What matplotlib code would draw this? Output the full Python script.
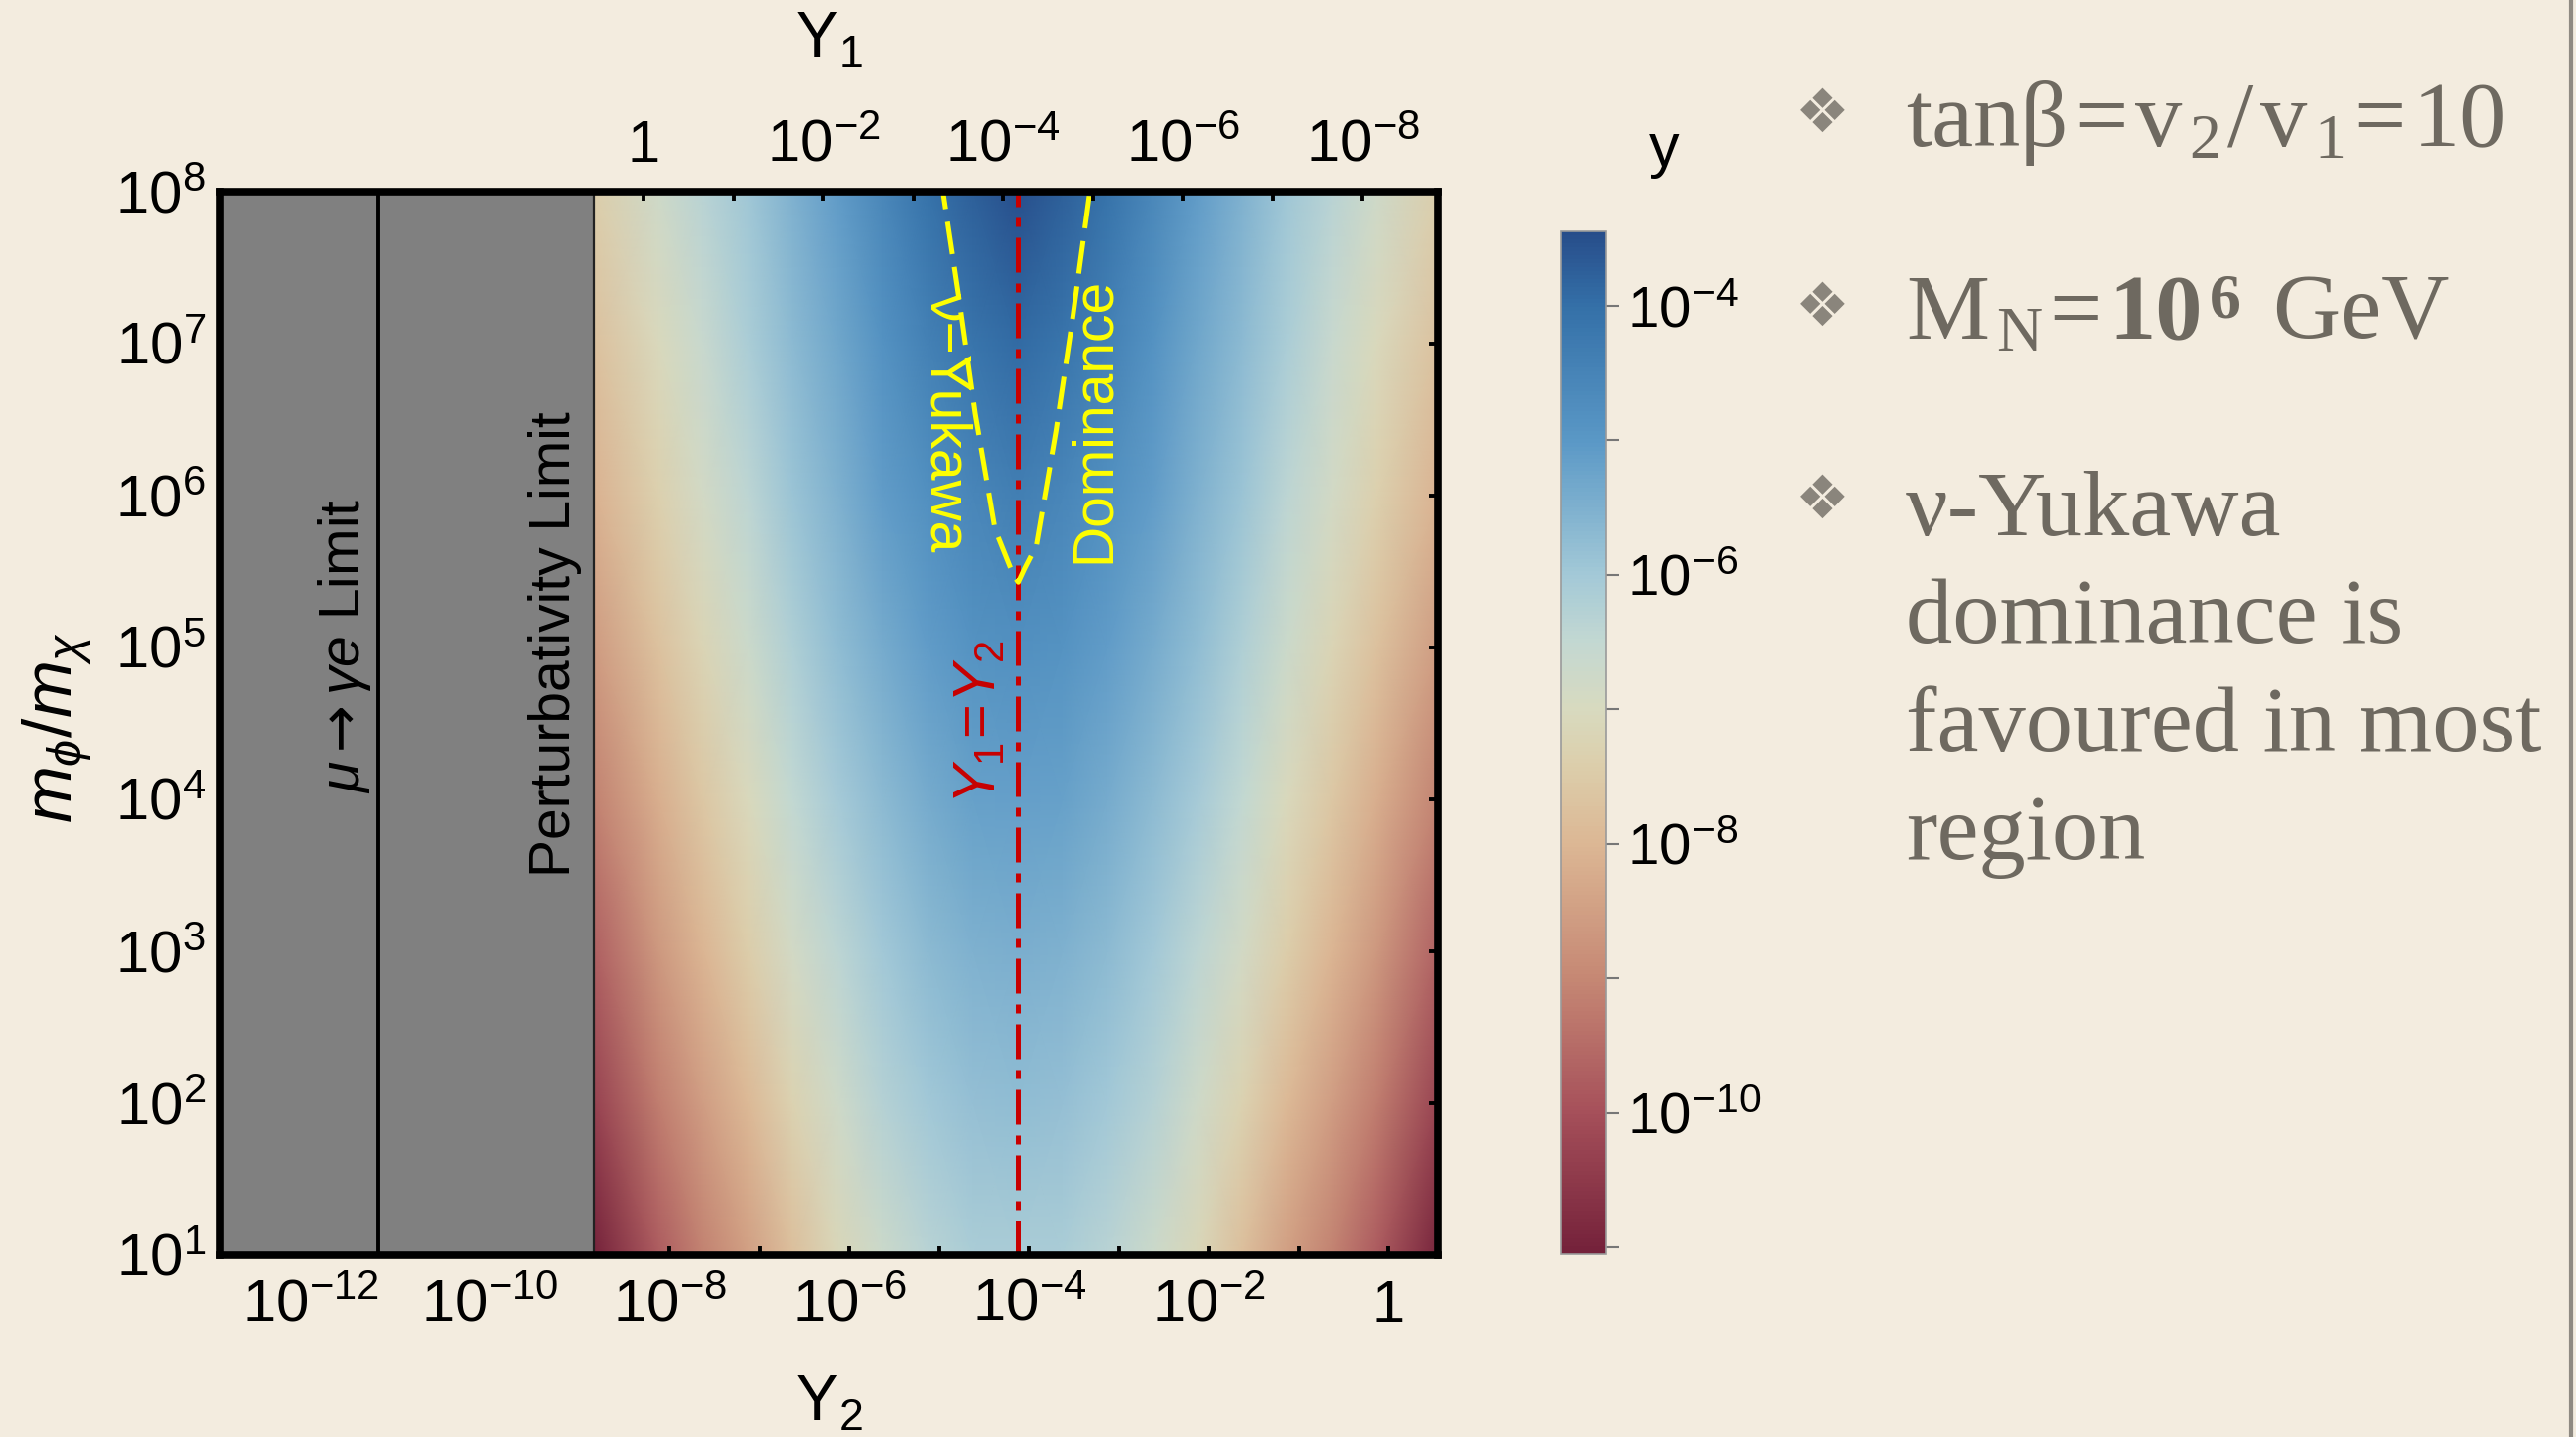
import numpy as np
import matplotlib
matplotlib.use('Agg')
import matplotlib.pyplot as plt
from matplotlib.colors import LinearSegmentedColormap, LogNorm
from matplotlib.ticker import FixedLocator, NullLocator, FixedFormatter
from matplotlib.lines import Line2D

W, H, DPI = 2594, 1447, 100
plt.rcParams['font.family'] = ['Liberation Sans', 'DejaVu Sans']
plt.rcParams['mathtext.fontset'] = 'custom'
plt.rcParams['mathtext.rm'] = 'Liberation Sans'
plt.rcParams['mathtext.it'] = 'Liberation Sans:italic'
plt.rcParams['mathtext.bf'] = 'Liberation Sans:bold'
plt.rcParams['mathtext.sf'] = 'DejaVu Sans'

# ---------------- data (log10 values) ----------------
y2_center_log = -4.13        # Y1 = Y2 line
y1y2_product_log = -8.29     # log10(Y1*Y2)
pert_limit_log = -8.84       # perturbativity boundary (Y1 = sqrt(4 pi))
mueg_limit_log = -11.24      # mu -> gamma e boundary
x_min_log, x_max_log = -13.0, 0.55
m_min_log, m_max_log = 1.0, 8.0

m_rows_log = [1, 2, 3, 4, 5, 6, 7, 8]
dist_cols = [0.0, 0.5, 1.0, 1.5, 2.0, 2.5, 3.0, 3.5, 4.0, 4.71]
logy_table = [
    [-6.10, -6.15, -6.35, -6.70, -7.15, -7.80, -8.50, -9.10, -9.80, -11.00],
    [-5.75, -5.80, -6.00, -6.30, -6.75, -7.30, -7.95, -8.55, -9.20, -10.30],
    [-5.45, -5.50, -5.70, -6.00, -6.40, -6.85, -7.45, -8.05, -8.65, -9.70],
    [-5.15, -5.20, -5.40, -5.70, -6.05, -6.50, -7.05, -7.60, -8.20, -9.10],
    [-4.80, -4.90, -5.10, -5.40, -5.75, -6.20, -6.70, -7.20, -7.75, -8.60],
    [-4.40, -4.55, -4.80, -5.10, -5.50, -5.90, -6.40, -6.85, -7.35, -8.10],
    [-3.95, -4.15, -4.45, -4.85, -5.30, -5.70, -6.15, -6.60, -7.05, -7.75],
    [-3.50, -3.75, -4.10, -4.60, -5.10, -5.50, -5.95, -6.35, -6.75, -7.40],
]
cbar_min_log, cbar_max_log = -11.05, -3.45

# nu-Yukawa dominance boundary (log10 Y2, log10 m_phi/m_chi)
dom_y2_log = [-4.97, -4.95, -4.78, -4.60, -4.38, -4.17, -4.12, -4.05, -3.92, -3.70, -3.51, -3.33, -3.32]
dom_m_log = [8.10, 7.97, 7.30, 6.54, 5.78, 5.47, 5.43, 5.52, 5.67, 6.43, 7.19, 7.97, 8.10]

bottom_ticks_log = list(range(-12, 1))
left_ticks_log = list(range(1, 9))
top_ticks_log = list(range(0, -9, -1))
cbar_ticks_log = [-4, -5, -6, -7, -8, -9, -10, -11]

# ---------------- colours ----------------
bg = '#F3ECDF'
anchors = [(-11.05, '#74213a'), (-10.0, '#a6505a'), (-9.0, '#c68874'), (-8.0, '#dcb794'),
           (-7.4, '#dccfac'), (-7.0, '#d8dabf'), (-6.5, '#c3d8d2'), (-6.0, '#a3c9d7'),
           (-5.0, '#5a98c6'), (-4.0, '#3470a8'), (-3.45, '#274d8a')]
cmap = LinearSegmentedColormap.from_list(
    'rbt', [((v - cbar_min_log) / (cbar_max_log - cbar_min_log), c) for v, c in anchors])
norm = LogNorm(vmin=10 ** cbar_min_log, vmax=10 ** cbar_max_log)

fig = plt.figure(figsize=(W / DPI, H / DPI), dpi=DPI, facecolor=bg)
ax = fig.add_axes([222 / W, 1 - 1264 / H, (1448 - 222) / W, (1264 - 193) / H])
ax.set_facecolor(bg)

# heat map
dist = np.array(dist_cols)
logx = np.concatenate([y2_center_log - dist[::-1], y2_center_log + dist[1:]])
tab = np.array(logy_table)
Z = np.concatenate([tab[:, ::-1], tab[:, 1:]], axis=1)
X, Y = np.meshgrid(10 ** logx, 10.0 ** np.array(m_rows_log))
mesh = ax.pcolormesh(X, Y, 10 ** Z, shading='gouraud', cmap=cmap, norm=norm, zorder=1)

ax.set_xscale('log')
ax.set_yscale('log')
ax.set_xlim(10 ** x_min_log, 10 ** x_max_log)
ax.set_ylim(10 ** m_min_log, 10 ** m_max_log)

# excluded regions
ax.axvspan(10 ** x_min_log, 10 ** pert_limit_log, color='#808080', zorder=2, lw=0)
ax.axvline(10 ** mueg_limit_log, color='black', lw=2.8, zorder=3)
ax.axvline(10 ** pert_limit_log, color='#222222', lw=1.6, zorder=3)

# lines
ax.plot([10 ** y2_center_log] * 2, [10 ** m_min_log, 10 ** m_max_log], color='#C80000', lw=3.6,
        dashes=(7, 2.2, 1.8, 2.2), zorder=4)
ax.plot(10.0 ** np.array(dom_y2_log), 10.0 ** np.array(dom_m_log), color='#FFFF00', lw=3.6,
        dashes=(6.6, 2.6), zorder=5)

# texts inside
ax.text(10 ** -11.62, 10 ** 5.01, r'$\mu\mathsf{\rightarrow}\gamma e$ Limit', rotation=90, fontsize=41,
        ha='center', va='center', color='black', zorder=6)
ax.text(10 ** -9.28, 10 ** 5.02, 'Perturbativity Limit', rotation=90, fontsize=41,
        ha='center', va='center', color='black', zorder=6)
ax.text(10 ** -4.54, 10 ** 4.51, r'$Y_1\!=\!Y_2$', rotation=90, fontsize=43,
        ha='center', va='center', color='#C80000', zorder=6)
ax.text(10 ** -4.93, 10 ** 6.48, '\u03bd\u2212Yukawa', rotation=-90, fontsize=41,
        ha='center', va='center', color='#FFFF00', zorder=6)
ax.text(10 ** -3.27, 10 ** 6.50, 'Dominance', rotation=90, fontsize=41,
        ha='center', va='center', color='#FFFF00', zorder=6)

# axes styling
for sp in ax.spines.values():
    sp.set_linewidth(5.5)
    sp.set_zorder(10)
ax.xaxis.set_major_locator(FixedLocator([10.0 ** k for k in bottom_ticks_log]))
ax.xaxis.set_major_formatter(FixedFormatter(
    [('1' if k == 0 else r'$10^{%d}$' % k) if k % 2 == 0 else '' for k in bottom_ticks_log]))
ax.xaxis.set_minor_locator(NullLocator())
ax.yaxis.set_major_locator(FixedLocator([10.0 ** k for k in left_ticks_log]))
ax.yaxis.set_major_formatter(FixedFormatter([r'$10^{%d}$' % k for k in left_ticks_log]))
ax.yaxis.set_minor_locator(NullLocator())
ax.tick_params(which='major', direction='in', length=6.5, width=2.8, top=False, right=True,
               labelsize=43, pad=11, zorder=11)
ax.tick_params(axis='x', pad=17)

ax2 = ax.twiny()
ax2.set_xscale('log')
K = 10 ** y1y2_product_log
ax2.set_xlim(K / 10 ** x_min_log, K / 10 ** x_max_log)
ax2.xaxis.set_major_locator(FixedLocator([10.0 ** k for k in top_ticks_log]))
ax2.xaxis.set_major_formatter(FixedFormatter(
    [('1' if k == 0 else r'$10^{%d}$' % k) if k % 2 == 0 else '' for k in top_ticks_log]))
ax2.xaxis.set_minor_locator(NullLocator())
ax2.tick_params(which='major', direction='in', length=6.5, width=2.8, labelsize=43, pad=13)
for sp in ax2.spines.values():
    sp.set_visible(False)

fig.text(835 / W, 1 - 41 / H, r'$\mathrm{Y}_1$', fontsize=46, ha='center', va='center')
fig.text(835 / W, 1 - 1414 / H, r'$\mathrm{Y}_2$', fontsize=46, ha='center', va='center')
fig.text(58 / W, 1 - 732 / H, r'$m_\phi/m_\chi$', fontsize=50, ha='center', va='center', rotation=90)

# colour bar
cax = fig.add_axes([1572 / W, 1 - 1263 / H, 45 / W, (1263 - 233) / H])
cb = fig.colorbar(mesh, cax=cax)
cb.set_ticks([10.0 ** k for k in cbar_ticks_log])
cb.set_ticklabels([r'$10^{%d}$' % k if k % 2 == 0 else '' for k in cbar_ticks_log])
cb.ax.yaxis.set_minor_locator(NullLocator())
cb.ax.tick_params(length=9, width=1.5, color='#777777', labelsize=42, pad=6)
cb.outline.set_edgecolor('#9a9a9a')
cb.outline.set_linewidth(1.2)
fig.text(1676 / W, 1 - 152 / H, 'y', fontsize=44, ha='center', va='center')

# slide text
grey = '#6E6960'
renderer = fig.canvas.get_renderer()


def text_width(s, size, weight='normal'):
    t = fig.text(0, 0, s, fontsize=size, fontweight=weight, family='Liberation Serif')
    w = t.get_window_extent(renderer).width
    t.remove()
    return w


def runs(x0, ybase, items, gap):
    x = x0
    for s, size, weight, dy in items:
        if s == ' ':
            x += text_width('x x', size, weight) - text_width('xx', size, weight)
            continue
        t = fig.text(x / W, 1 - (ybase - dy) / H, s, fontsize=size, fontweight=weight,
                     family='Liberation Serif', color=grey, va='baseline', ha='left')
        x += t.get_window_extent(renderer).width + gap


FS = 68
SS = 46
runs(1919, 147, [('tan\u03b2', FS, 'normal', 0), ('=', FS, 'normal', 0), ('v', FS, 'normal', 0),
                 ('2', SS, 'normal', -12), ('/', FS, 'normal', 0), ('v', FS, 'normal', 0),
                 ('1', SS, 'normal', -12), ('=', FS, 'normal', 0), ('10', FS, 'normal', 0)], gap=7)
runs(1919, 341, [('M', FS, 'normal', 0), ('N', SS, 'normal', -12), ('=', FS, 'normal', 0),
                 ('10', FS, 'bold', 0), ('6', SS, 'bold', 22), (' ', FS, 'normal', 0),
                 ('GeV', FS, 'normal', 0)], gap=7)
for s, yb in [('\u03bd-Yukawa', 539), ('dominance is', 647), ('favoured in most', 756), ('region', 865)]:
    fig.text(1919 / W, 1 - yb / H, s, fontsize=FS, family='Liberation Serif', color=grey,
             va='baseline', ha='left')
for yc in [116, 311, 505]:
    fig.text(1835 / W, 1 - yc / H, '\u2756', fontsize=44, family='DejaVu Sans', color='#8a857c',
             ha='center', va='center')

fig.add_artist(Line2D([2589 / W] * 2, [0, 1], transform=fig.transFigure, color='#8f8a82', lw=3))

fig.savefig('out.png', dpi=DPI, facecolor=bg)
